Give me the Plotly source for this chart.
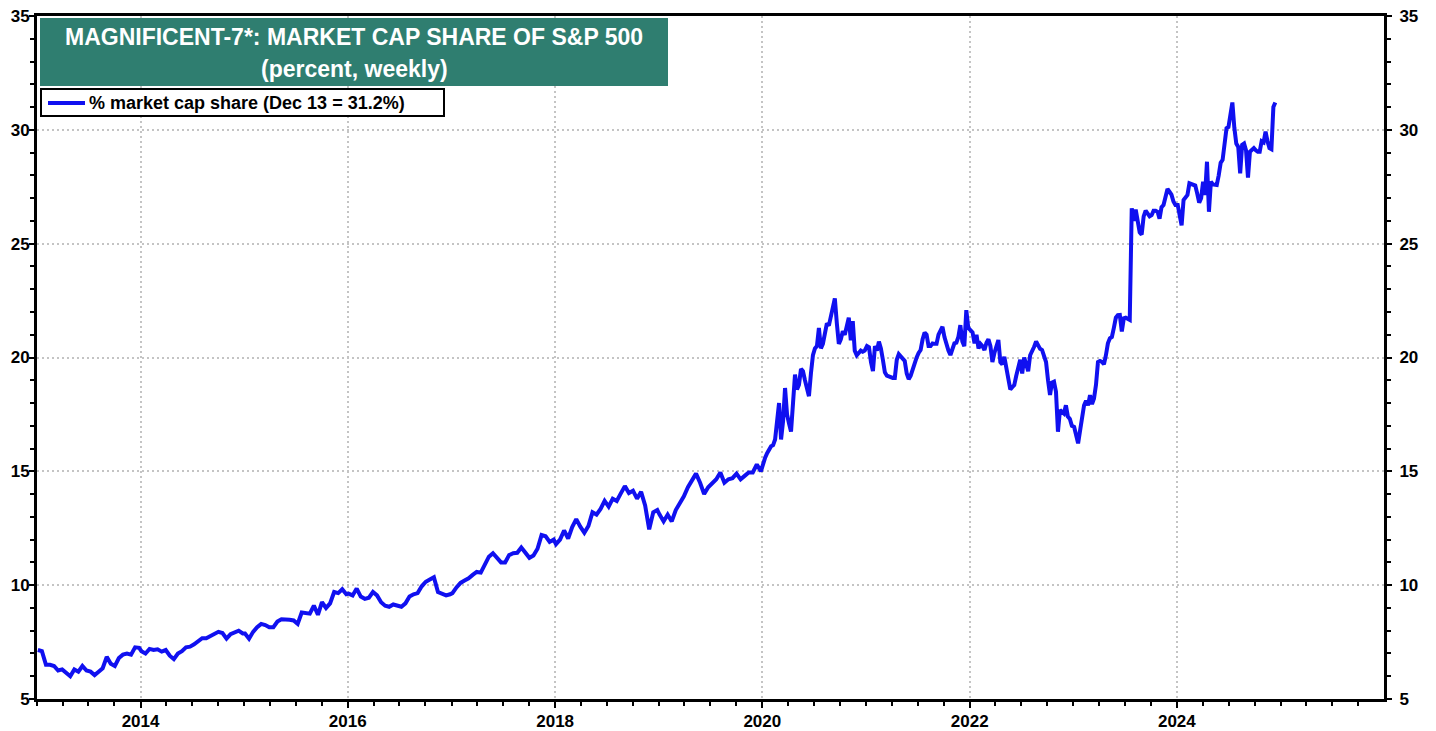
"""Magnificent-7 market cap share of the S&P 500, weekly."""

import pandas as pd
import plotly.graph_objects as go

FONT = "Liberation Sans, Arial, sans-serif"

# weekly (% share) values, one list per calendar year
share_2013 = [7.15, 7.1, 6.5, 6.5, 6.45, 6.25, 6.3, 6.15, 6.0, 6.3, 6.2, 6.45, 6.25,
              6.2, 6.05, 6.2, 6.35, 6.85, 6.55, 6.45, 6.8, 6.95, 7.0, 6.95, 7.27, 7.25]
share_2014 = [7.1, 7.0, 7.2, 7.15, 7.18, 7.08, 7.15, 6.9, 6.75, 7.0, 7.1, 7.27, 7.3,
              7.4, 7.55, 7.67, 7.67, 7.78, 7.85, 7.95, 7.9, 7.65, 7.85, 7.95, 8.0, 7.88]
share_2015 = [7.88, 7.65, 7.95, 8.15, 8.3, 8.25, 8.15, 8.15, 8.4, 8.5, 8.5, 8.48, 8.45,
              8.3, 8.8, 8.78, 8.75, 9.1, 8.7, 9.25, 9.0, 9.2, 9.7, 9.65, 9.82, 9.6]
share_2016 = [9.63, 9.55, 9.85, 9.5, 9.4, 9.45, 9.7, 9.55, 9.25, 9.1, 9.05, 9.15, 9.1,
              9.05, 9.2, 9.5, 9.6, 9.65, 9.95, 10.15, 10.25, 10.35, 9.7, 9.6, 9.55, 9.6]
share_2017 = [9.65, 9.9, 10.1, 10.2, 10.3, 10.45, 10.58, 10.55, 10.9, 11.25, 11.4, 11.2, 11.0,
              11.0, 11.32, 11.4, 11.42, 11.65, 11.4, 11.2, 11.3, 11.6, 12.2, 12.15, 11.9, 12.0]
share_2018 = [11.8, 12.0, 12.4, 12.05, 12.55, 12.9, 12.57, 12.3, 12.6, 13.2, 13.1, 13.35, 13.7,
              13.45, 13.8, 13.7, 14.03, 14.35, 14.05, 14.15, 13.8, 14.1, 13.5, 12.45, 13.2, 13.3]
share_2019 = [13.1, 12.8, 13.1, 12.8, 13.3, 13.6, 13.9, 14.3, 14.6, 14.9, 14.5, 14.0, 14.3,
              14.5, 14.65, 14.95, 14.5, 14.65, 14.7, 14.9, 14.65, 14.8, 14.95, 14.95, 15.3, 15.0]
share_2020 = [15.4, 15.6, 15.8, 16.0, 16.1, 16.15, 16.4, 17.2, 18.0, 16.4, 17.2, 18.66, 17.5,
              17.1, 16.75, 18.0, 19.25, 18.6, 18.8, 19.5, 19.4, 19.0, 18.7, 18.3, 19.3, 20.1,
              20.4, 20.5, 21.3, 20.4, 20.6, 21.0, 21.5, 21.4, 21.8, 22.2, 22.6, 21.5, 20.6,
              20.8, 21.15, 21.0, 21.3, 21.75, 20.75, 21.6, 20.3, 20.1, 20.2, 20.3, 20.25, 20.3]
share_2021 = [20.5, 20.45, 19.8, 19.4, 20.5, 20.3, 20.7, 20.4, 19.9, 19.35, 19.2, 19.15, 19.1,
              19.1, 19.1, 19.9, 20.15, 20.05, 19.95, 19.85, 19.3, 19.05, 19.2, 19.5, 19.85, 20.0,
              20.2, 20.33, 20.8, 21.1, 21.0, 20.5, 20.5, 20.62, 20.6, 20.6, 21.0, 21.2, 21.35,
              20.9, 20.5, 20.3, 20.11, 20.4, 20.62, 20.65, 20.9, 21.42, 20.7, 20.5, 22.08, 21.3]
share_2022 = [21.2, 21.1, 20.62, 21.0, 20.4, 20.6, 20.5, 20.33, 20.65, 20.8, 20.5, 19.8, 20.2,
              20.5, 20.77, 19.8, 19.7, 20.03, 19.5, 19.1, 18.6, 18.7, 18.79, 19.2, 19.6, 19.9,
              19.3, 20.0, 19.7, 19.4, 20.1, 20.35, 20.47, 20.7, 20.55, 20.38, 20.33, 20.05, 19.8,
              19.0, 18.35, 18.9, 18.94, 18.5, 16.74, 17.69, 17.6, 17.54, 17.9, 17.4, 17.3, 17.0]
share_2023 = [16.95, 16.6, 16.23, 16.8, 17.4, 17.9, 18.1, 17.9, 18.35, 17.95, 18.2, 18.8, 19.8,
              19.85, 19.81, 19.7, 20.1, 20.62, 20.84, 20.9, 21.3, 21.75, 21.86, 21.87, 21.14, 21.72,
              21.75, 21.72, 21.65, 26.55, 26.0, 26.5, 25.9, 25.5, 25.4, 26.2, 26.45, 26.3, 26.2,
              26.25, 26.45, 26.45, 26.4, 26.1, 26.6, 26.7, 27.1, 27.4, 27.28, 27.15, 26.85, 26.7]
share_2024 = [26.7, 26.3, 25.8, 26.92, 27.07, 27.14, 27.65, 27.6, 27.55, 27.55, 27.2, 26.8, 27.0,
              27.72, 27.14, 28.6, 26.4, 27.72, 27.6, 27.58, 27.58, 28.0, 28.55, 28.68, 29.3, 30.07,
              30.12, 30.7, 31.2, 30.1, 29.4, 29.25, 28.09, 29.34, 29.4, 29.1, 27.9, 29.04, 29.1,
              29.2, 29.1, 29.04, 29.04, 29.5, 29.45, 29.92, 29.5, 29.2, 29.15, 31.0, 31.2]

yearly = {
    2013: share_2013, 2014: share_2014, 2015: share_2015, 2016: share_2016,
    2017: share_2017, 2018: share_2018, 2019: share_2019, 2020: share_2020,
    2021: share_2021, 2022: share_2022, 2023: share_2023, 2024: share_2024,
}
last_date = "2024-12-13"

title_line1 = "MAGNIFICENT-7*: MARKET CAP SHARE OF S&P 500"
title_line2 = "(percent, weekly)"
series_name = "% market cap share (Dec 13 = 31.2%)"

dates, values = [], []
for year, vals in yearly.items():
    end = last_date if year == 2024 else f"{year}-12-27"
    dates += list(pd.date_range(f"{year}-01-04", end, periods=len(vals)))
    values += vals

# page is 1436 x 731; the figure div sits 8px in from the top-left (body margin)
PAGE_W, PAGE_H, OFF = 1436, 731, 8
L, R, T, B = 37, 1384, 16, 699  # plot area, page pixels
LINE_COLOR = "#1010f0"


def px(x):
    return (x - L) / (R - L)


def py(y):
    return (B - y) / (B - T)


fig = go.Figure()
fig.add_trace(
    go.Scatter(
        x=dates, y=values, mode="lines", name=series_name,
        line=dict(color=LINE_COLOR, width=4),
    )
)
# carrier for the right-hand axis
fig.add_trace(
    go.Scatter(
        x=dates, y=values, mode="lines", yaxis="y2", showlegend=False,
        line=dict(width=0), opacity=0, hoverinfo="skip",
    )
)

tick_font = dict(family=FONT, size=17, color="black", weight="bold")
grid = dict(showgrid=True, gridcolor="#c4c4c4", gridwidth=1.5, griddash="2px,3px")
yaxis_common = dict(
    range=[5, 35], dtick=5, tick0=5, ticks="outside", ticklen=5, tickwidth=1.5,
    tickcolor="black", tickfont=tick_font, automargin=False, ticklabeloverflow="allow",
    minor=dict(dtick=1, ticks="outside", ticklen=4, tickcolor="black", showgrid=False),
    showline=True, linecolor="black", linewidth=3, zeroline=False,
)

fig.update_layout(
    width=PAGE_W - OFF, height=PAGE_H - OFF,
    margin=dict(l=L - OFF, r=PAGE_W - R, t=T - OFF, b=PAGE_H - B),
    paper_bgcolor="white", plot_bgcolor="white",
    showlegend=False,
    xaxis=dict(
        type="date", range=["2013-01-01", "2025-12-31"], automargin=False,
        dtick="M24", tick0="2014-01-01", tickformat="%Y",
        ticks="outside", ticklen=6, tickwidth=1.5, tickcolor="black",
        tickfont=tick_font, ticklabelstandoff=-1, ticklabeloverflow="allow",
        minor=dict(dtick="M3", tick0="2013-01-01", ticks="outside", ticklen=4,
                   tickcolor="black", showgrid=False),
        showline=True, linecolor="black", linewidth=3, mirror=True,
        **grid,
    ),
    yaxis=dict(side="left", mirror=True, ticklabelstandoff=-4, **yaxis_common, **grid),
    yaxis2=dict(side="right", overlaying="y", showgrid=False, ticklabelstandoff=4,
                **yaxis_common),
    shapes=[
        # title banner
        dict(type="rect", xref="paper", yref="paper", x0=px(40), x1=px(668),
             y0=py(86), y1=py(18), fillcolor="#2f7e70", line=dict(width=0), layer="above"),
        # legend box and key
        dict(type="rect", xref="paper", yref="paper", x0=px(41), x1=px(444),
             y0=py(116), y1=py(89), fillcolor="white",
             line=dict(color="black", width=2), layer="above"),
        dict(type="line", xref="paper", yref="paper", x0=px(48), x1=px(85),
             y0=py(103), y1=py(103), line=dict(color=LINE_COLOR, width=4), layer="above"),
    ],
    annotations=[
        dict(text=title_line1, xref="paper", yref="paper", x=px(354), y=py(37),
             showarrow=False, xanchor="center", yanchor="middle",
             font=dict(family=FONT, size=23, color="white", weight="bold")),
        dict(text=title_line2, xref="paper", yref="paper", x=px(354), y=py(69),
             showarrow=False, xanchor="center", yanchor="middle",
             font=dict(family=FONT, size=23, color="white", weight="bold")),
        dict(text=series_name, xref="paper", yref="paper", x=px(87), y=py(103),
             showarrow=False, xanchor="left", yanchor="middle",
             font=dict(family=FONT, size=18, color="black", weight="bold")),
    ],
)

fig.write_html("out.html")
